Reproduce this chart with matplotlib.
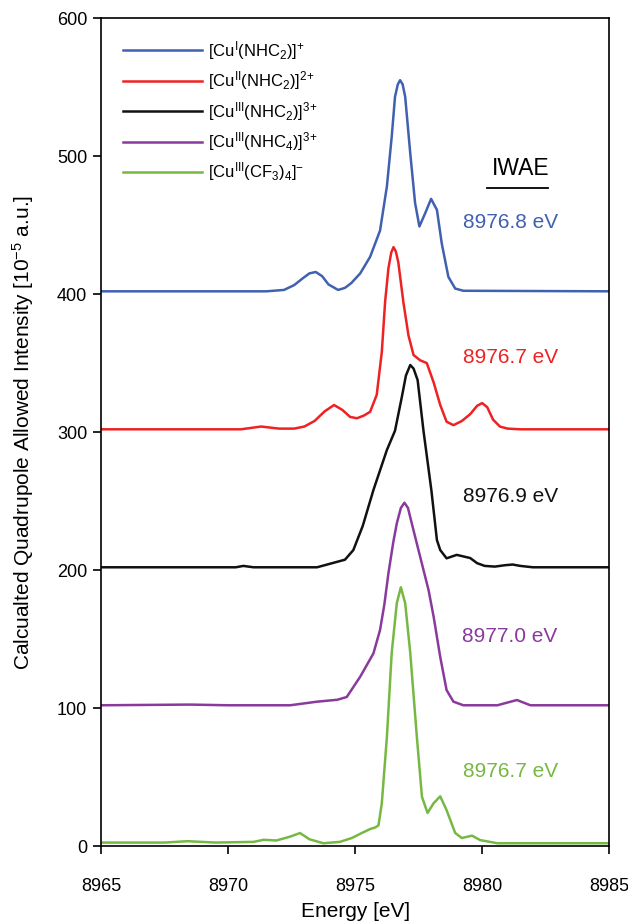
import numpy as np
import matplotlib
matplotlib.use('Agg')
import matplotlib.pyplot as plt

plt.rcParams['font.family'] = ['Liberation Sans', 'DejaVu Sans']
plt.rcParams['mathtext.fontset'] = 'custom'
plt.rcParams['mathtext.rm'] = 'Liberation Sans'
plt.rcParams['mathtext.it'] = 'Liberation Sans:italic'
plt.rcParams['mathtext.bf'] = 'Liberation Sans:bold'

# spectra (energy in eV, intensity incl. vertical offset)
cu1_x = [8965, 8971.5, 8972.2, 8972.6, 8972.95, 8973.2, 8973.45, 8973.7, 8973.95, 8974.33, 8974.6, 8974.85,
         8975.2, 8975.59, 8975.98, 8976.25, 8976.44, 8976.57, 8976.68, 8976.77, 8976.87, 8976.97, 8977.17,
         8977.36, 8977.53, 8977.76, 8977.99, 8978.22, 8978.41, 8978.67, 8978.94, 8979.26, 8985]
cu1_y = [402, 402, 403, 406.5, 411.6, 415, 416, 413, 407, 403, 404.5, 408, 415, 427, 446, 478, 514, 543,
         552, 555, 552, 543, 502, 466, 449, 458.7, 469, 461, 436.7, 412.5, 404, 402.4, 402]

cu2_x = [8965, 8970.5, 8971.3, 8972.0, 8972.6, 8973.0, 8973.4, 8973.8, 8974.17, 8974.5, 8974.8, 8975.07,
         8975.35, 8975.59, 8975.85, 8976.05, 8976.18, 8976.31, 8976.42, 8976.51, 8976.6, 8976.7, 8976.9,
         8977.1, 8977.3, 8977.56, 8977.82, 8978.09, 8978.35, 8978.6, 8978.87, 8979.2, 8979.53, 8979.8,
         8980.0, 8980.2, 8980.43, 8980.7, 8981.0, 8981.5, 8985]
cu2_y = [302, 302, 304, 302.5, 302.5, 304, 308, 315, 319.6, 316, 311, 310, 312, 314.7, 327, 358, 394.4,
         418.6, 430, 434, 431, 423, 394, 370, 355.8, 352, 350, 336, 319.6, 307.5, 305, 308, 313, 319, 321,
         318, 309, 304, 302.5, 302, 302]

cu3_x = [8965, 8970.3, 8970.6, 8971.0, 8973.5, 8974.0, 8974.4, 8974.6, 8974.93, 8975.3, 8975.72, 8976.25,
         8976.57, 8976.84, 8977.0, 8977.17, 8977.3, 8977.46, 8977.69, 8978.0, 8978.22, 8978.35, 8978.6,
         8979.0, 8979.53, 8979.8, 8980.1, 8980.5, 8980.9, 8981.2, 8981.5, 8982, 8985]
cu3_y = [202, 202, 203, 202, 202, 204.5, 206.5, 207.5, 214.5, 232, 258, 287, 301, 325.6, 341, 348.6, 346,
         337.7, 301, 258, 221.7, 214.5, 208.5, 211, 208.7, 205, 203, 202.5, 203.5, 204, 203, 202, 202]

cu4_x = [8965, 8968.5, 8970, 8972.44, 8973.5, 8974.3, 8974.67, 8975.2, 8975.72, 8975.98, 8976.15, 8976.31,
         8976.5, 8976.64, 8976.8, 8976.94, 8977.08, 8977.23, 8977.56, 8977.89, 8978.09, 8978.35, 8978.6,
         8978.87, 8979.26, 8980.6, 8981.0, 8981.37, 8981.9, 8985]
cu4_y = [102, 102.5, 102, 102, 104.6, 106, 108, 122.7, 139.6, 156.5, 175, 197.6, 220, 233.8, 245, 248.8,
         245, 233.8, 209.6, 185.5, 166.2, 137, 113, 104.6, 102, 102, 104, 105.8, 102, 102]

cf3_x = [8965, 8967.5, 8968.4, 8969.5, 8971.0, 8971.4, 8971.9, 8972.44, 8972.83, 8973.2, 8973.75, 8974.4,
         8974.87, 8975.26, 8975.59, 8975.8, 8975.92, 8976.05, 8976.25, 8976.44, 8976.64, 8976.8, 8976.97,
         8977.17, 8977.43, 8977.63, 8977.85, 8978.09, 8978.35, 8978.6, 8978.94, 8979.2, 8979.6, 8979.92,
         8980.6, 8985]
cf3_y = [2.5, 2.5, 3.5, 2.5, 3, 4.5, 4, 6.8, 9.4, 4.9, 2, 3, 5.8, 9.4, 12.3, 13.5, 15, 31, 79, 140, 176,
         187.5, 176, 140, 79, 35.7, 24, 31, 36, 26, 9.4, 5.8, 7.5, 4.3, 2, 2]

labels = [r'[Cu$^{\mathrm{I}}$(NHC$_2$)]$^{{+}}$',
          r'[Cu$^{\mathrm{II}}$(NHC$_2$)]$^{2{+}}$',
          r'[Cu$^{\mathrm{III}}$(NHC$_2$)]$^{3{+}}$',
          r'[Cu$^{\mathrm{III}}$(NHC$_4$)]$^{3{+}}$',
          r'[Cu$^{\mathrm{III}}$(CF$_3$)$_4$]$^{{-}}$']
colors = ['#4060b0', '#ee2222', '#111111', '#8a3a9c', '#77b843']
iwae = ['8976.8 eV', '8976.7 eV', '8976.9 eV', '8977.0 eV', '8976.7 eV']
iwae_y = [452, 354, 253, 152, 54]

fig = plt.figure(figsize=(6.28, 9.24), dpi=100)
ax = fig.add_axes([0.161, 0.0844, 0.809, 0.896])

curves = [(cu1_x, cu1_y), (cu2_x, cu2_y), (cu3_x, cu3_y), (cu4_x, cu4_y), (cf3_x, cf3_y)]
for (x, y), lab, c in zip(curves, labels, colors):
    ax.plot(x, y, color=c, linewidth=1.8, label=lab, solid_joinstyle='round')

for txt, yy, c in zip(iwae, iwae_y, colors):
    ax.text(8981.1, yy, txt, color=c, fontsize=15, ha='center', va='center')
ax.text(8981.5, 491, 'IWAE', fontsize=16.5, ha='center', va='center')
ax.plot([8980.2, 8982.6], [477, 477], color='black', linewidth=1.3)

ax.set_xlim(8965, 8985)
ax.set_ylim(0, 600)
ax.set_xticks(np.arange(8965, 8986, 5))
ax.set_yticks(np.arange(0, 601, 100))
ax.tick_params(direction='out', length=6, width=1.2, labelsize=13, pad=4)
ax.tick_params(axis='x', pad=17)
for s in ax.spines.values():
    s.set_linewidth(1.2)
ax.set_xlabel('Energy [eV]', fontsize=15, labelpad=5)
ax.set_ylabel('Calcualted Quadrupole Allowed Intensity [10$^{-5}$ a.u.]', fontsize=15, labelpad=15)

ax.legend(loc='upper left', frameon=False, fontsize=12, handlelength=4.7, handletextpad=0.4,
          labelspacing=0.45, borderaxespad=0.5, bbox_to_anchor=(0.014, 0.993))

fig.savefig('out.png', dpi=100)
